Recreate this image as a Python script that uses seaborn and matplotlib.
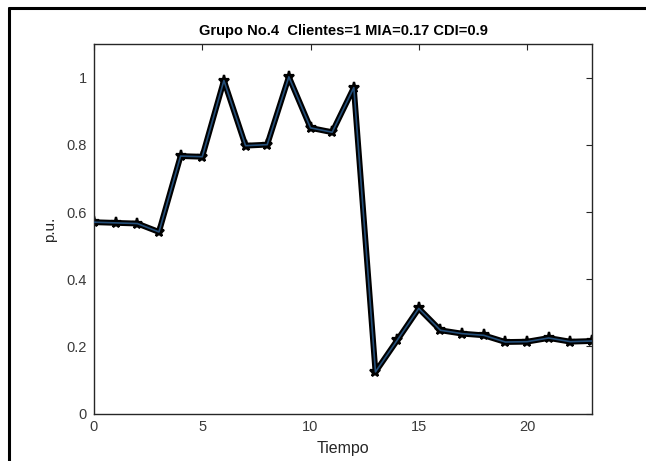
import matplotlib
matplotlib.use("Agg")
import matplotlib.pyplot as plt
from matplotlib.lines import Line2D
import seaborn as sns
import pandas as pd

# Hourly profile (p.u.) for group 4
tiempo = list(range(24))
pu = [0.570, 0.568, 0.566, 0.541, 0.767, 0.765, 0.992, 0.798, 0.801, 1.003,
      0.851, 0.838, 0.971, 0.124, 0.218, 0.313, 0.248, 0.238, 0.233, 0.213,
      0.214, 0.225, 0.214, 0.216]
xticks = [0, 5, 10, 15, 20]
yticks = [0, 0.2, 0.4, 0.6, 0.8, 1.0]
ytick_labels = ["0", "0.2", "0.4", "0.6", "0.8", "1"]

df = pd.DataFrame({"Tiempo": tiempo, "pu": pu})

sns.set_style("white")
plt.rcParams["font.family"] = ["Liberation Sans", "DejaVu Sans"]

fig = plt.figure(figsize=(6.46, 4.61), dpi=100)
ax = fig.add_axes([0.1455, 0.103, 0.7709, 0.8009])

# thick black trace with star markers, thin blue trace on top
sns.lineplot(data=df, x="Tiempo", y="pu", ax=ax, color="black", linewidth=4.2,
             marker="*", markersize=8, markerfacecolor="black",
             markeredgecolor="black", markeredgewidth=1.6, zorder=2)
sns.lineplot(data=df, x="Tiempo", y="pu", ax=ax, color="#244f7a",
             linewidth=1.2, zorder=3)

ax.set_xlim(0, 23)
ax.set_ylim(0, 1.1)
ax.set_xticks(xticks)
ax.set_xticklabels([str(t) for t in xticks])
ax.set_yticks(yticks)
ax.set_yticklabels(ytick_labels)

axis_color = "#262626"
for side in ["left", "bottom", "top", "right"]:
    ax.spines[side].set_visible(True)
    ax.spines[side].set_color(axis_color)
    ax.spines[side].set_linewidth(1.0)

ax.tick_params(axis="both", which="both", direction="in", length=4,
               width=0.8, color=axis_color, labelcolor="#3a3a3a",
               labelsize=10.5, top=True, right=True, pad=5)

ax.set_xlabel("Tiempo", fontsize=11.5, color=axis_color, labelpad=5)
ax.set_ylabel("p.u.", fontsize=11, color=axis_color, labelpad=7)
ax.set_title("Grupo No.4  Clientes=1 MIA=0.17 CDI=0.9", fontsize=10.5,
             fontweight="bold", color="black", pad=7)

# figure frame along the top and left edges
fig.add_artist(Line2D([9 / 646, 1.0], [1 - 8.5 / 461, 1 - 8.5 / 461],
                      transform=fig.transFigure, color="black", linewidth=2.2))
fig.add_artist(Line2D([9 / 646, 9 / 646], [0.0, 1 - 8.5 / 461],
                      transform=fig.transFigure, color="black", linewidth=2.2))

fig.savefig("out.png", dpi=100, facecolor="white")
